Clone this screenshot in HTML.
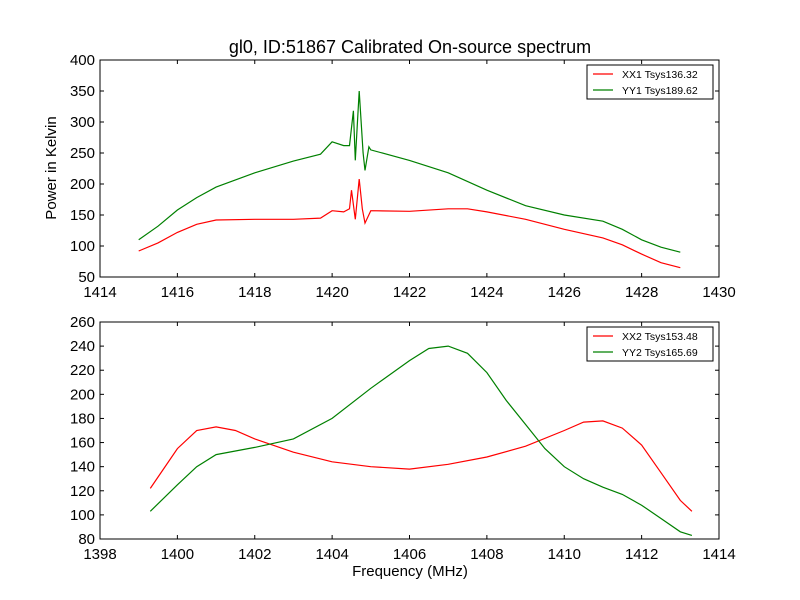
<!DOCTYPE html>
<html><head><meta charset="utf-8"><style>body{margin:0;background:#fff}svg{display:block;font-family:"Liberation Sans","DejaVu Sans",sans-serif}</style></head>
<body>
<svg id="c" width="800" height="600" xmlns="http://www.w3.org/2000/svg">
<rect width="800" height="600" fill="#fff"/>
<text x="410" y="53" text-anchor="middle" font-size="18">gl0, ID:51867 Calibrated On-source spectrum</text>
<text transform="translate(56,168) rotate(-90)" text-anchor="middle" font-size="15">Power in Kelvin</text>
<text x="410" y="576" text-anchor="middle" font-size="15">Frequency (MHz)</text>
</svg>
<script>
const xx1F=[1415,1415.5,1416,1416.5,1417,1418,1419,1419.7,1420,1420.3,1420.45,1420.5,1420.6,1420.7,1420.78,1420.85,1421,1422,1423,1423.5,1424,1425,1426,1427,1427.5,1428,1428.5,1429];
const xx1V=[92,105,122,135,142,143,143,145,157,155,160,190,143,208,160,137,157,156,160,160,155,143,127,113,102,87,73,65];
const yy1F=[1415,1415.5,1416,1416.5,1417,1418,1419,1419.7,1420,1420.3,1420.45,1420.55,1420.6,1420.7,1420.8,1420.85,1420.95,1421,1422,1423,1424,1425,1426,1427,1427.5,1428,1428.5,1429];
const yy1V=[110,132,158,178,195,218,237,248,268,262,262,318,238,350,250,222,260,255,238,218,190,165,150,140,127,110,98,90];
const xx2F=[1399.3,1400,1400.5,1401,1401.5,1402,1403,1404,1405,1406,1407,1408,1409,1410,1410.5,1411,1411.5,1412,1412.5,1413,1413.3];
const xx2V=[122,155,170,173,170,163,152,144,140,138,142,148,157,170,177,178,172,158,135,112,103];
const yy2F=[1399.3,1400,1400.5,1401,1402,1403,1404,1405,1406,1406.5,1407,1407.5,1408,1408.5,1409,1409.5,1410,1410.5,1411,1411.5,1412,1412.5,1413,1413.3];
const yy2V=[103,125,140,150,156,163,180,205,228,238,240,234,218,195,175,155,140,130,123,117,108,97,86,83];
const xTicksTop=[1414,1416,1418,1420,1422,1424,1426,1428,1430];
const yTicksTop=[50,100,150,200,250,300,350,400];
const xTicksBot=[1398,1400,1402,1404,1406,1408,1410,1412,1414];
const yTicksBot=[80,100,120,140,160,180,200,220,240,260];
const svg=document.getElementById('c');const NS='http://www.w3.org/2000/svg';
function mk(t,a){const e=document.createElementNS(NS,t);for(const k in a)e.setAttribute(k,a[k]);svg.appendChild(e);return e;}
function panel(p,x0,x1,y0,y1,top,bot,xt,yt,series,leg){
 const sx=v=>100+(v-x0)/(x1-x0)*619, sy=v=>bot-(v-y0)/(y1-y0)*(bot-top);
 series.forEach(s=>{const d=s.f.map((f,i)=>(i?'L':'M')+sx(f).toFixed(1)+','+sy(s.v[i]).toFixed(1)).join('');
  const e=mk('path',{d:d,fill:'none',stroke:s.c,'stroke-width':1.2});
  
  });
 const fr=mk('rect',{x:100,y:top,width:619,height:bot-top,fill:'none',stroke:'#000'});
 
 
 xt.forEach(v=>{const x=sx(v);mk('line',{x1:x,x2:x,y1:bot,y2:bot-4,stroke:'#000'});mk('line',{x1:x,x2:x,y1:top,y2:top+4,stroke:'#000'});
  const t=mk('text',{x:x,y:bot+20,'text-anchor':'middle','font-size':15});t.textContent=v;
  
  });
 yt.forEach(v=>{const y=sy(v);mk('line',{x1:100,x2:104,y1:y,y2:y,stroke:'#000'});mk('line',{x1:719,x2:715,y1:y,y2:y,stroke:'#000'});
  const t=mk('text',{x:95,y:y+5,'text-anchor':'end','font-size':15});t.textContent=v;
  
  });
 const lb=mk('rect',{x:587,y:top+5,width:126,height:34,fill:'#fff',stroke:'#000'});
 
 
 leg.forEach((l,i)=>{const y=top+14+i*16;mk('line',{x1:593,x2:613,y1:y,y2:y,stroke:series[i].c,'stroke-width':1.2});
  const t=mk('text',{x:622,y:y+4,'font-size':10.5});t.textContent=l;
  
  });
}
panel('top',1414,1430,50,400,60,277,xTicksTop,yTicksTop,[{f:xx1F,v:xx1V,c:'#f00',n:'xx1'},{f:yy1F,v:yy1V,c:'#008000',n:'yy1'}],['XX1 Tsys136.32','YY1 Tsys189.62']);
panel('bottom',1398,1414,80,260,322,539,xTicksBot,yTicksBot,[{f:xx2F,v:xx2V,c:'#f00',n:'xx2'},{f:yy2F,v:yy2V,c:'#008000',n:'yy2'}],['XX2 Tsys153.48','YY2 Tsys165.69']);
</script>
</body></html>
